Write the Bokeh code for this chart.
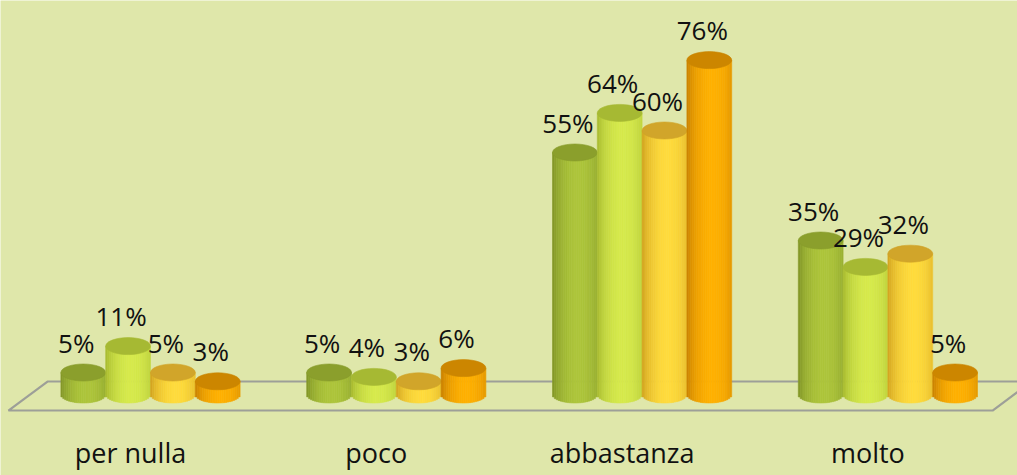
from bokeh.plotting import figure
from bokeh.models import Range1d
from bokeh.core.properties import value
from bokeh.embed import file_html
from bokeh.resources import INLINE

# ---- data -------------------------------------------------------------
categories = ["per nulla", "poco", "abbastanza", "molto"]
series_a = [5, 5, 55, 35]
series_b = [11, 4, 64, 29]
series_c = [5, 3, 60, 32]
series_d = [3, 6, 76, 5]
series = [series_a, series_b, series_c, series_d]

# ---- style ------------------------------------------------------------
BG = "#dfe7aa"
FONT = "Open Sans"
# (edge shade, highlight, top face) per series
palettes = [
    ("#7e9226", "#adc53b", "#8b9f2c"),
    ("#a5b82e", "#d6ea4c", "#a6b933"),
    ("#cf9f1e", "#ffdb3c", "#d1a52a"),
    ("#c67e00", "#ffb000", "#cc8600"),
]

W, H = 1017, 475
PX_PER_X = 245.8      # pixels per category step
PX_PER_Y = 4.4        # pixels per percent
ORIGIN_X, ORIGIN_Y = 150, 394

p = figure(width=W, height=H, output_backend="svg", toolbar_location=None,
           x_range=Range1d(-ORIGIN_X / PX_PER_X, (W - ORIGIN_X) / PX_PER_X),
           y_range=Range1d(-(H - ORIGIN_Y) / PX_PER_Y, ORIGIN_Y / PX_PER_Y),
           min_border=0)
p.axis.visible = False
p.grid.visible = False
p.outline_line_color = None
p.background_fill_color = BG
p.border_fill_color = BG


def hex_rgb(h):
    h = h.lstrip("#")
    return tuple(int(h[i:i + 2], 16) for i in (0, 2, 4))


def mix(c1, c2, t):
    a, b = hex_rgb(c1), hex_rgb(c2)
    return "#%02x%02x%02x" % tuple(int(round(a[i] + (b[i] - a[i]) * t)) for i in range(3))


# ---- floor (perspective plane) ----------------------------------------
n_cat = len(categories)
floor_front = -3.64
floor_back = 2.95
fl_left_front = -0.578
fl_left_back = -0.419
fl_right_front = (n_cat - 1) + 0.426
fl_right_back = (n_cat - 1) + 0.584
p.line([fl_right_back, fl_left_back, fl_left_front, fl_right_front, fl_right_back],
       [floor_back, floor_back, floor_front, floor_front, floor_back],
       line_color="#9d9f98", line_width=2.2)

# ---- cylinders --------------------------------------------------------
n_ser = len(series)
bar_w = 44.8 / PX_PER_X
ell_h = 17 / PX_PER_Y
N_STRIPS = 24

for j, vals in enumerate(series):
    edge, hi, top = palettes[j]
    for i, v in enumerate(vals):
        cx = i + (j - (n_ser - 1) / 2) * bar_w
        lefts, rights, tops, bottoms, colors = [], [], [], [], []
        for k in range(N_STRIPS):
            t0 = k / N_STRIPS
            t1 = (k + 1) / N_STRIPS
            tc = (t0 + t1) / 2
            dx = (tc - 0.5) * 2
            # shading: brightest a little right of centre
            f = max(0.0, 1 - ((tc - 0.58) / 0.58) ** 2) ** 0.8
            lefts.append(cx - bar_w / 2 + t0 * bar_w)
            rights.append(cx - bar_w / 2 + t1 * bar_w)
            tops.append(v)
            bottoms.append(-ell_h / 2 * max(0.0, 1 - dx * dx) ** 0.5)
            colors.append(mix(edge, hi, f))
        p.quad(left=lefts, right=rights, top=tops, bottom=bottoms,
               fill_color=colors, line_color=colors, line_width=0.6)
        p.ellipse(x=[cx], y=[v], width=bar_w, height=ell_h,
                  fill_color=top, line_color=mix(top, edge, 0.3), line_width=0.6)

# ---- value labels -----------------------------------------------------
for j, vals in enumerate(series):
    xs = [i + (j - (n_ser - 1) / 2) * bar_w for i in range(n_cat)]
    ys = [v + 30 / PX_PER_Y for v in vals]
    p.text(x=xs, y=ys, text=["%d%%" % v for v in vals],
           text_font=value(FONT), text_font_size="26px", text_color="#111111",
           text_align="center", text_baseline="middle", x_offset=-7)

# ---- category labels --------------------------------------------------
p.text(x=list(range(n_cat)), y=[-58 / PX_PER_Y] * n_cat, text=categories,
       text_font=value(FONT), text_font_size="27px", text_color="#111111",
       text_align="center", text_baseline="middle", x_offset=-20)

open("out.html", "w").write(file_html(p, INLINE))
